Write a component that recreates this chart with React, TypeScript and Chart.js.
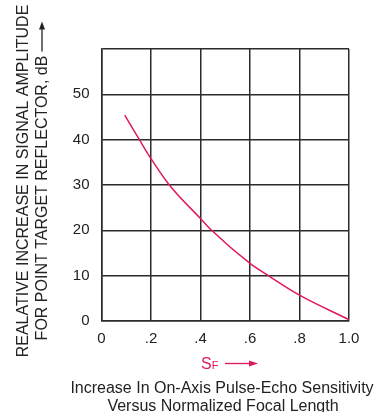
import React, { useEffect, useRef } from "react";
import { Chart, registerables } from "chart.js";

Chart.register(...registerables);

const xValues = [0.094, 0.153, 0.2, 0.274, 0.4, 0.445, 0.6, 0.674, 0.8, 1.0];
const yValues = [45.4, 40, 35.8, 30, 22.6, 20, 12.7, 10, 5.7, 0.3];
const xTickLabels: Record<string, string> = { "0": "0", "0.2": ".2", "0.4": ".4", "0.6": ".6", "0.8": ".8", "1": "1.0" };
const yTickLabels: Record<string, string> = { "0": "0", "10": "10", "20": "20", "30": "30", "40": "40", "50": "50", "60": "" };
const yTitle = ["REALATIVE INCREASE IN SIGNAL AMPLITUDE", "FOR POINT TARGET REFLECTOR, dB"];
const xTitleMain = "S";
const xTitleSub = "F";
const caption = ["Increase In On-Axis Pulse-Echo Sensitivity", "Versus Normalized Focal Length"];

const RED = "#e0195a";
const GRID = "#2b2b2b";
const FONT = "'Liberation Sans', Arial, Helvetica, sans-serif";
const NARROW = "'Liberation Sans Narrow', 'Liberation Sans', Arial, sans-serif";

const labelPlugin = {
  id: "labels",
  afterDraw(chart: any) {
    const { ctx, chartArea } = chart;
    ctx.save();
    // y title
    ctx.fillStyle = "#222";
    ctx.font = `16px ${NARROW}`;
    ctx.textAlign = "center";
    ctx.textBaseline = "middle";
    const cy = (chartArea.top + chartArea.bottom) / 2 - 4;
    ctx.save();
    ctx.translate(24, cy);
    ctx.rotate(-Math.PI / 2);
    ctx.fillText(yTitle[0], 0, 0);
    ctx.restore();
    ctx.save();
    ctx.translate(43, cy);
    ctx.rotate(-Math.PI / 2);
    const t2 = yTitle[1];
    const w2 = ctx.measureText(t2).width;
    const arrowLen = 30;
    const total = w2 + 4 + arrowLen;
    ctx.textAlign = "left";
    ctx.fillText(t2, -total / 2, 0);
    const ax0 = -total / 2 + w2 + 4;
    ctx.strokeStyle = "#222";
    ctx.lineWidth = 1.3;
    ctx.beginPath();
    ctx.moveTo(ax0, -1);
    ctx.lineTo(ax0 + arrowLen - 6, -1);
    ctx.stroke();
    ctx.beginPath();
    ctx.moveTo(ax0 + arrowLen, -1);
    ctx.lineTo(ax0 + arrowLen - 8, -4);
    ctx.lineTo(ax0 + arrowLen - 8, 2);
    ctx.closePath();
    ctx.fillStyle = "#222";
    ctx.fill();
    ctx.restore();

    // x title "SF ->"
    ctx.fillStyle = RED;
    ctx.textAlign = "left";
    ctx.textBaseline = "alphabetic";
    ctx.font = `16px ${FONT}`;
    const sx = 201;
    const sy = 369;
    ctx.fillText(xTitleMain, sx, sy);
    const sw = ctx.measureText(xTitleMain).width;
    ctx.font = `11px ${FONT}`;
    ctx.fillText(xTitleSub, sx + sw, sy);
    ctx.strokeStyle = RED;
    ctx.lineWidth = 1.3;
    ctx.beginPath();
    ctx.moveTo(225, 363.5);
    ctx.lineTo(251, 363.5);
    ctx.stroke();
    ctx.beginPath();
    ctx.moveTo(258, 363.5);
    ctx.lineTo(249, 360.5);
    ctx.lineTo(249, 366.5);
    ctx.closePath();
    ctx.fill();

    // caption
    ctx.fillStyle = "#222";
    ctx.textAlign = "center";
    ctx.font = `16px ${FONT}`;
    ctx.fillText(caption[0], 222, 393);
    ctx.fillText(caption[1], 223, 411);
    ctx.restore();
  },
};

export default function App() {
  const ref = useRef<HTMLCanvasElement>(null);
  useEffect(() => {
    if (!ref.current) return;
    const chart = new Chart(ref.current, {
      type: "scatter",
      data: {
        datasets: [
          {
            data: xValues.map((x, i) => ({ x, y: yValues[i] })),
            showLine: true,
            borderColor: RED,
            borderWidth: 1.5,
            pointRadius: 0,
            cubicInterpolationMode: "monotone",
            fill: false,
          } as any,
        ],
      },
      options: {
        animation: false,
        responsive: false,
        maintainAspectRatio: false,
        layout: { padding: { top: 49, right: 25, left: 0, bottom: 0 } },
        plugins: { legend: { display: false }, tooltip: { enabled: false }, title: { display: false } },
        scales: {
          x: {
            type: "linear",
            min: 0,
            max: 1,
            afterFit: (s: any) => { s.height = 91; },
            ticks: {
              stepSize: 0.2,
              padding: 9,
              color: "#222",
              font: { size: 15, family: FONT },
              callback: (v: any) => xTickLabels[String(Math.round(Number(v) * 10) / 10)] ?? "",
              maxRotation: 0,
            },
            grid: { color: GRID, lineWidth: 1.5, drawTicks: false },
            border: { color: GRID, width: 1.5 },
          },
          y: {
            type: "linear",
            min: 0,
            max: 60,
            afterFit: (s: any) => { s.width = 101.5; },
            ticks: {
              stepSize: 10,
              padding: 12,
              color: "#222",
              font: { size: 15, family: FONT },
              callback: (v: any) => yTickLabels[String(v)] ?? "",
            },
            grid: { color: GRID, lineWidth: 1.5, drawTicks: false },
            border: { color: GRID, width: 1.5 },
          },
        },
      },
      plugins: [labelPlugin],
    });
    return () => chart.destroy();
  }, []);
  return (
    <div style={{ position: "fixed", left: 0, top: 0, width: 374, height: 412, background: "#fff" }}>
      <canvas ref={ref} width={374} height={412} style={{ width: 374, height: 412 }} />
    </div>
  );
}
